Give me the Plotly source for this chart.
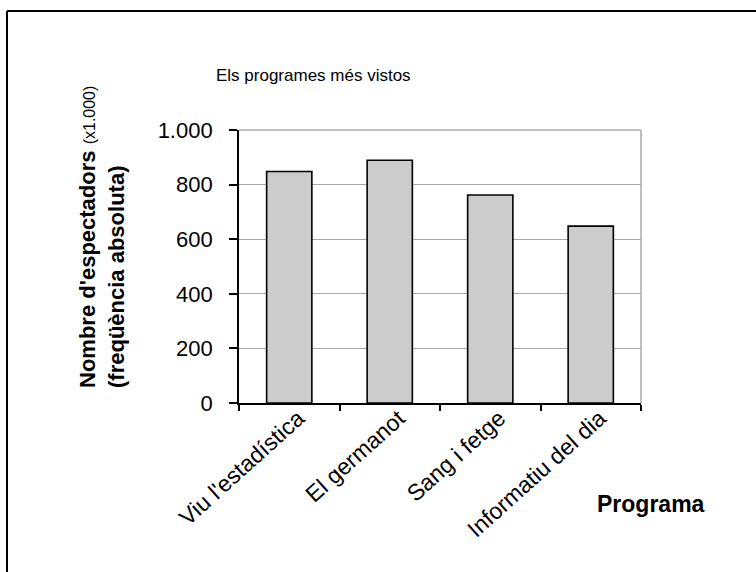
import plotly.graph_objects as go

# Audience per programme (thousands of viewers)
programes = ["Viu l'estadística", "El germanot", "Sang i fetge", "Informatiu del dia"]
espectadors = [848, 889, 762, 648]

y_ticks = [0, 200, 400, 600, 800, 1000]

W, H = 756, 572
L, R, T, B = 239, 641, 130, 403  # plot area in pixels

def px_x(x):
    return (x - L) / (R - L)

def px_y(y):
    return (B - y) / (B - T)

FONT = "Arial, Liberation Sans, sans-serif"

fig = go.Figure(
    go.Bar(
        x=programes,
        y=espectadors,
        marker=dict(color="#cccccc", line=dict(color="#000000", width=1.6)),
        width=0.45,
    )
)

fig.update_layout(
    width=W,
    height=H,
    margin=dict(l=L, r=W - R, t=T, b=H - B, pad=0),
    paper_bgcolor="white",
    plot_bgcolor="white",
    separators=",.",
    showlegend=False,
    font=dict(family=FONT, color="#000000"),
)

fig.update_xaxes(
    type="category",
    tickson="boundaries",
    ticks="outside",
    ticklen=6,
    tickwidth=1.5,
    tickcolor="#000000",
    tickangle=-42,
    ticklabelshift=9,
    ticklabelstandoff=-9,
    tickfont=dict(size=23, family=FONT, color="#000000"),
    showline=True,
    linecolor="#000000",
    linewidth=1.8,
    showgrid=False,
    range=[-0.5, 3.5],
)

fig.update_yaxes(
    range=[0, 1000],
    tickvals=y_ticks,
    tickformat=",d",
    ticks="outside",
    ticklen=8,
    tickwidth=1.5,
    tickcolor="#000000",
    ticklabelstandoff=12,
    tickfont=dict(size=22, family=FONT, color="#000000"),
    showline=True,
    linecolor="#000000",
    linewidth=1.8,
    showgrid=True,
    gridcolor="#a8a8a8",
    gridwidth=1,
    zeroline=False,
)

shapes = [
    # plot-area frame on the top and right, in grey
    dict(type="line", xref="paper", yref="paper", x0=0, x1=1, y0=1, y1=1,
         line=dict(color="#a8a8a8", width=1.5)),
    dict(type="line", xref="paper", yref="paper", x0=1, x1=1, y0=0, y1=1,
         line=dict(color="#a8a8a8", width=1.5)),
    # outer frame of the chart
    dict(type="line", xref="paper", yref="paper", x0=px_x(7), x1=px_x(760),
         y0=px_y(11), y1=px_y(11), line=dict(color="#000000", width=2)),
    dict(type="line", xref="paper", yref="paper", x0=px_x(7), x1=px_x(7),
         y0=px_y(11), y1=px_y(580), line=dict(color="#000000", width=2)),
]
fig.update_layout(shapes=shapes)

annotations = [
    dict(text="Els programes més vistos", xref="paper", yref="paper",
         x=px_x(313), y=px_y(75), xanchor="center", yanchor="middle",
         showarrow=False, font=dict(size=17, family=FONT, color="#000000")),
    dict(text="<b>Programa</b>", xref="paper", yref="paper",
         x=px_x(651), y=px_y(504), xanchor="center", yanchor="middle",
         showarrow=False, font=dict(size=23, family=FONT, color="#000000")),
    dict(text="<b>Nombre d'espectadors</b> <span style='font-size:16px'>(x1.000)</span>"
              "<br><b>(freqüència absoluta)</b>",
         xref="paper", yref="paper", x=px_x(102), y=px_y(390),
         xanchor="center", yanchor="bottom", textangle=-90, align="left",
         showarrow=False, font=dict(size=22, family=FONT, color="#000000")),
]
fig.update_layout(annotations=annotations)

fig.write_html("out.html")
